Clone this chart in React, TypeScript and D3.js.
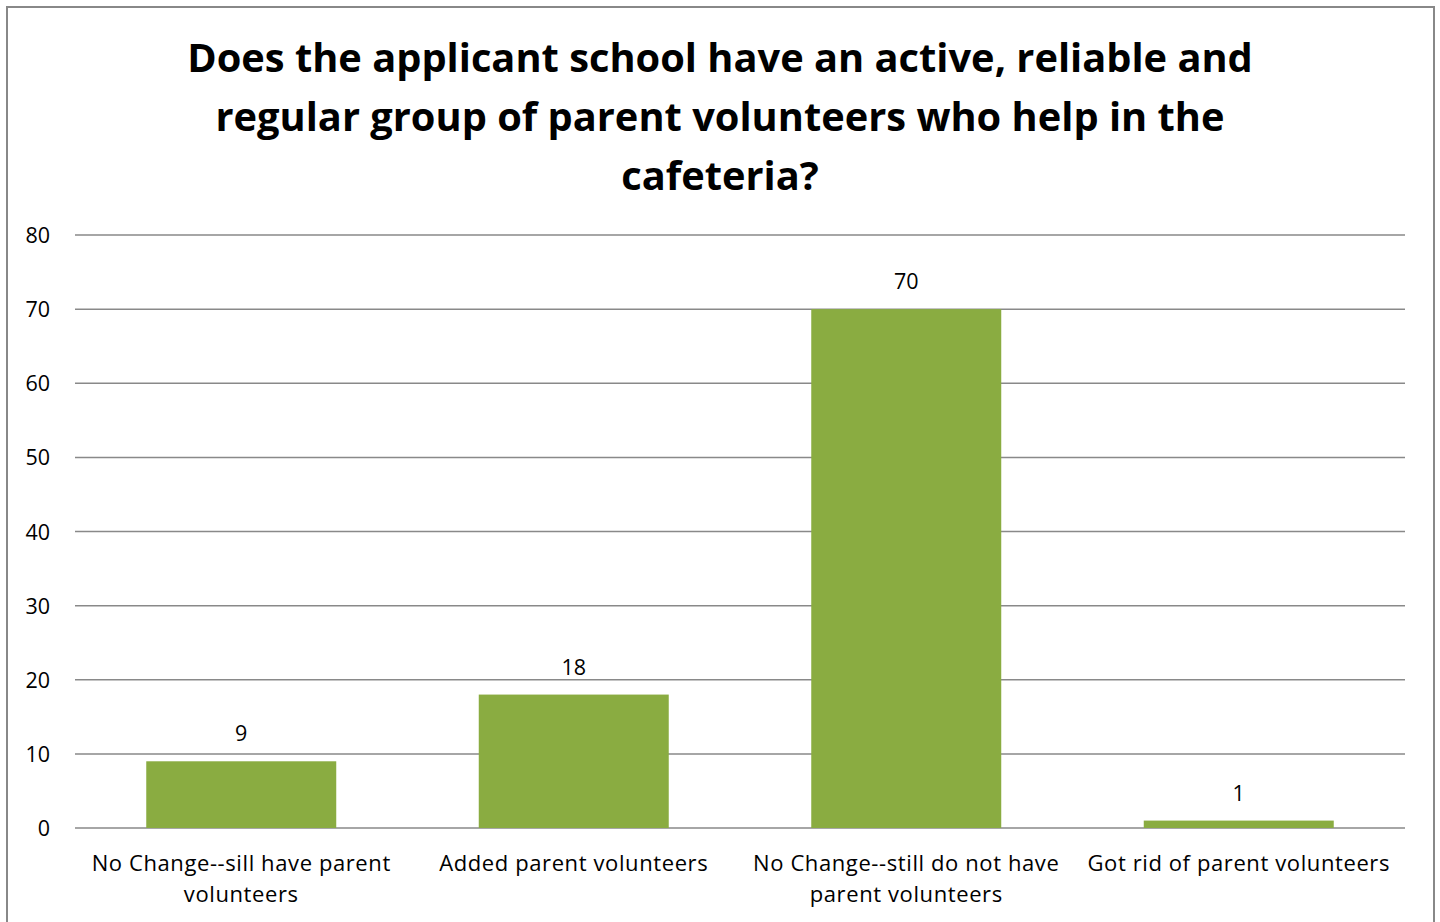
import React from "react";
import * as d3 from "d3";

const titleLines = [
  "Does the applicant school have an active, reliable and",
  "regular group of parent volunteers who help in the",
  "cafeteria?",
];
const categories = [
  "No Change--sill have parent volunteers",
  "Added parent volunteers",
  "No Change--still do not have parent volunteers",
  "Got rid of parent volunteers",
];
const categoryLines = [
  ["No Change--sill have parent", "volunteers"],
  ["Added parent volunteers"],
  ["No Change--still do not have", "parent volunteers"],
  ["Got rid of parent volunteers"],
];
const values = [9, 18, 70, 1];
const yTicks = [0, 10, 20, 30, 40, 50, 60, 70, 80];

const W = 1440;
const H = 922;
const left = 75;
const right = 1405;
const top = 235;
const bottom = 828;
const FONT = "Open Sans, Calibri, sans-serif";

export default function App() {
  const x = d3.scaleBand<string>().domain(categories).range([left, right]).paddingInner(0.4286).paddingOuter(0.2143);
  const y = d3.scaleLinear().domain([0, 80]).range([bottom, top]);
  return (
    <svg width={W} height={H} style={{ position: "absolute", left: 0, top: 0 }}>
      <rect x={0} y={0} width={W} height={H} fill="#fff" />
      <path d={`M7,${H + 5} L7,7 L1434,7 L1434,${H + 5}`} fill="none" stroke="#888" strokeWidth={2} />
      {titleLines.map((t, i) => (
        <text key={i} x={720} y={72 + i * 59} textAnchor="middle" fontFamily={FONT} fontWeight="bold" fontSize={39.8} fill="#000">
          {t}
        </text>
      ))}
      {yTicks.map((t) => (
        <g key={t}>
          <line x1={left} x2={right} y1={y(t)} y2={y(t)} stroke="#898989" strokeWidth={1.5} />
          <text x={50} y={y(t) + 8} textAnchor="end" fontFamily={FONT} fontSize={21.5} fill="#000">
            {t}
          </text>
        </g>
      ))}
      {categories.map((c, i) => {
        const bx = x(c)!;
        const cx = bx + x.bandwidth() / 2;
        return (
          <g key={c}>
            <rect x={bx} y={y(values[i])} width={x.bandwidth()} height={y(0) - y(values[i])} fill="#8aac41" />
            <text x={cx} y={y(values[i]) - 20} textAnchor="middle" fontFamily={FONT} fontSize={21.5} fill="#000">
              {values[i]}
            </text>
            {categoryLines[i].map((l, j) => (
              <text key={j} x={cx} y={871 + j * 31} textAnchor="middle" fontFamily={FONT} fontSize={22} letterSpacing={0.6} fill="#000">
                {l}
              </text>
            ))}
          </g>
        );
      })}
    </svg>
  );
}
